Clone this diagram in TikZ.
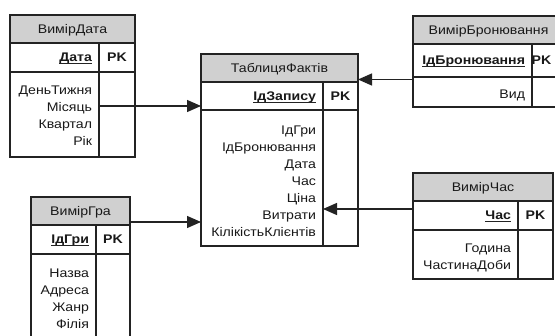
\documentclass[tikz,border=0pt]{standalone}
\usepackage{fontspec}
\setmainfont{Liberation Sans}[FakeStretch=1.13]
\usetikzlibrary{arrows.meta,calc}
\definecolor{hdrgray}{RGB}{208,208,208}
\definecolor{linecol}{RGB}{35,35,35}
\definecolor{txtcol}{RGB}{25,25,25}
\tikzset{
  box/.style={draw=linecol, line width=1.25pt, anchor=north west, inner sep=0pt, outer sep=0pt},
  hdrbox/.style={box, fill=hdrgray},
  cellbox/.style={box, fill=white},
  txt/.style={inner sep=0pt, outer sep=0pt, text=txtcol, font=\fontsize{12.5}{17}\selectfont, text height=8.9pt, text depth=0pt},
  keytxt/.style={txt, font=\fontsize{12.5}{17}\selectfont\bfseries},
  conn/.style={draw=linecol, line width=1.3pt, -{Triangle[length=14pt,width=12pt]}},
}
\def\pkdx{0pt}
% #1 id, #2 x, #3 y, #4 width, #5 pk width, #6 key row h, #7 body h, #8 title, #9 key
\newcommand\ertab[9]{%
  \node[hdrbox, minimum width=#4pt, minimum height=28pt] (#1H) at (#2,#3) {};
  \node[txt] (#1Ht) at (#1H.center) {#8};
  \node[cellbox, minimum width=#4pt-#5pt, minimum height=#6pt] (#1K) at (#1H.south west) {};
  \node[cellbox, minimum width=#5pt, minimum height=#6pt] (#1P) at (#1K.north east) {};
  \node[keytxt, anchor=east] (#1Kt) at ([xshift=-7pt]#1K.east) {#9};
  \draw[linecol, line width=0.9pt] ([yshift=-2pt]#1Kt.south west) -- ([yshift=-2pt]#1Kt.south east);
  \node[keytxt] (#1Pt) at ([xshift=\pkdx]#1P.center) {PK};
  \node[cellbox, minimum width=#4pt-#5pt, minimum height=#7pt] (#1B) at (#1K.south west) {};
  \node[cellbox, minimum width=#5pt, minimum height=#7pt] (#1Q) at (#1B.north east) {};
}
% #1 id, #2 first baseline offset, #3 list
\newcommand\erfields[3]{%
  \foreach \fld [count=\i from 0] in {#3} {
    \node[txt, anchor=base east] (#1F\i) at ($(#1B.north east)+(-7,#2+17*\i)$) {\fld};
  }%
}
\begin{document}
\begin{tikzpicture}[x=1pt, y=-1pt]
  \useasboundingbox (0,0) rectangle (555,336);
  \clip (0,0) rectangle (555,336);
  \fill[white] (0,0) rectangle (555,336);

  \ertab{d}{10}{15}{125}{36}{29}{85}{ВимірДата}{Дата}
  \erfields{d}{23}{ДеньТижня,Місяць,Квартал,Рік}

  \ertab{f}{201}{54}{157}{35}{28}{136}{ТаблицяФактів}{ІдЗапису}
  \erfields{f}{25}{ІдГри,ІдБронювання,Дата,Час,Ціна,Витрати,КілікістьКлієнтів}

  \def\pkdx{-6.5pt}
  \ertab{b}{413}{16}{151}{32}{33}{30}{ВимірБронювання}{ІдБронювання}
  \erfields{b}{22}{Вид}
  \def\pkdx{0pt}

  \ertab{c}{413}{173}{140}{35}{29}{49}{ВимірЧас}{Час}
  \erfields{c}{23}{Година,ЧастинаДоби}

  \ertab{g}{31}{197}{99}{34}{29}{95}{ВимірГра}{ІдГри}
  \erfields{g}{24}{Назва,Адреса,Жанр,Філія}

  \coordinate (a1) at ([yshift=4pt]fK.south west);
  \draw[conn] (a1 -| dB.east) -- (a1);
  \coordinate (a2) at ([yshift=3pt]gH.south east);
  \draw[conn] (a2) -- (a2 -| fB.west);
  \coordinate (a3) at ([yshift=-2.5pt]bK.south west);
  \draw[conn] (a3) -- (a3 -| fH.east);
  \coordinate (a4) at ([yshift=-8pt]cK.north west);
  \draw[conn] (a4) -- (a4 -| fB.east);
\end{tikzpicture}
\end{document}
